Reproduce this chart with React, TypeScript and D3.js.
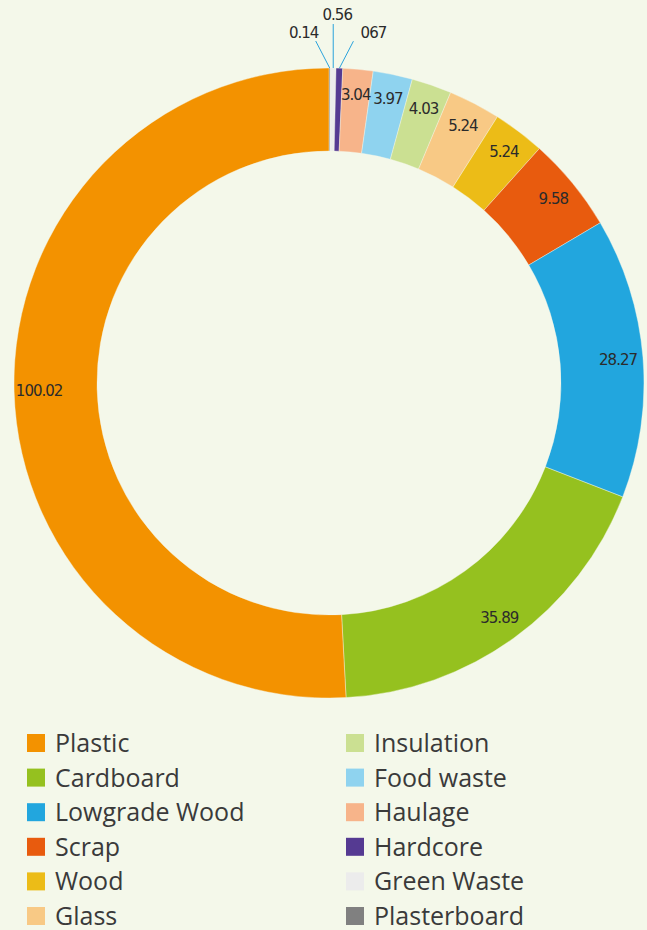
import React from "react";
import * as d3 from "d3";

const categories = [
  "Plastic", "Cardboard", "Lowgrade Wood", "Scrap", "Wood", "Glass",
  "Insulation", "Food waste", "Haulage", "Hardcore", "Green Waste", "Plasterboard",
];
const values = [100.02, 35.89, 28.27, 9.58, 5.24, 5.24, 4.03, 3.97, 3.04, 0.67, 0.56, 0.14];
const valueLabels = ["100.02", "35.89", "28.27", "9.58", "5.24", "5.24", "4.03", "3.97", "3.04", "067", "0.56", "0.14"];
const colors = [
  "#f39200", "#95c11f", "#22a6de", "#e85b0e", "#ecbc17", "#f8c985",
  "#cbe092", "#8fd3ef", "#f7b48a", "#553a92", "#ececec", "#808080",
];

const W = 647, H = 930;
const BG = "#f4f8ea";

export default function App() {
  const cx = 329, cy = 383, rOut = 315, rIn = 232, rLab = 290;
  const idx = d3.range(categories.length).reverse();
  const pie = d3.pie<number>().sort(null).value((i) => values[i]);
  const arcs = pie(idx);
  const arc = d3.arc<d3.PieArcDatum<number>>().innerRadius(rIn).outerRadius(rOut);
  const labArc = d3.arc<d3.PieArcDatum<number>>().innerRadius(rLab).outerRadius(rLab);
  const outArc = d3.arc<d3.PieArcDatum<number>>().innerRadius(rOut).outerRadius(rOut);

  const small = arcs.filter((a) => values[a.data] < 1);
  const smallIdx = (a: d3.PieArcDatum<number>) => small.indexOf(a);

  const col1 = categories.slice(0, 6);
  const col2 = categories.slice(6);
  const rowY = d3.scaleLinear().domain([0, 5]).range([743, 916]);

  const numFont = "'DejaVu Sans', sans-serif";

  return (
    <svg width={W} height={H} style={{ position: "absolute", left: 0, top: 0, display: "block" }}>
      <rect x={0} y={0} width={W} height={H} fill={BG} />
      <g transform={`translate(${cx},${cy})`}>
        {arcs.map((a) => (
          <path key={a.data} d={arc(a) || ""} fill={colors[a.data]} stroke={BG} strokeWidth={0.4} />
        ))}
        {arcs.map((a) => {
          const i = a.data;
          if (values[i] < 1) {
            const j = smallIdx(a);
            const [sx, sy] = outArc.centroid(a);
            const ex = sx + (j - 1) * 14;
            const ey = j === 1 ? sy - 44 : sy - 27;
            const tx = sx + (j - 1) * 30 + 4;
            const ty = j === 1 ? sy - 48 : sy - 30;
            return (
              <g key={"l" + i}>
                <line x1={sx} y1={sy} x2={ex} y2={ey} stroke="#2aa3dc" strokeWidth={1} />
                <text x={tx} y={ty} textAnchor="middle" fontFamily={numFont} fontSize={15}
                  letterSpacing={-1} fill="#2b2b2b">{valueLabels[i]}</text>
              </g>
            );
          }
          const [lx, ly] = labArc.centroid(a);
          return (
            <text key={"l" + i} x={lx} y={ly} dy="0.35em" textAnchor="middle" fontFamily={numFont}
              fontSize={15} letterSpacing={-1} fill="#2b2b2b">{valueLabels[i]}</text>
          );
        })}
      </g>
      {[col1, col2].map((col, c) =>
        col.map((name, r) => {
          const i = c * 6 + r;
          const x = c === 0 ? 27 : 346;
          const y = rowY(r);
          return (
            <g key={name}>
              <rect x={x} y={y - 9} width={18} height={18} fill={colors[i]} />
              <text x={x + 28} y={y} dy="0.36em" fontFamily="'Open Sans', sans-serif" fontSize={25}
                fontWeight={400} fill="#3a3a3a">{name}</text>
            </g>
          );
        })
      )}
    </svg>
  );
}
